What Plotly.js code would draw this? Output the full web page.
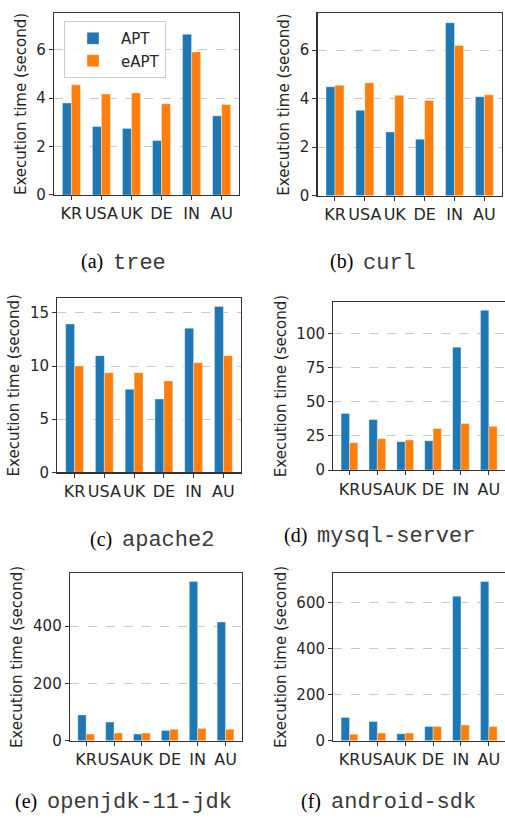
<!DOCTYPE html>
<html>
<head>
<meta charset="utf-8">
<script src="https://cdn.plot.ly/plotly-3.0.1.min.js"></script>
<style>
  html, body { margin: 0; padding: 0; background: #fff; }
  #chart { width: 505px; height: 821px; }
</style>
</head>
<body>
<div id="chart"></div>
<script>
// ---- data ----
const categories = ['KR', 'USA', 'UK', 'DE', 'IN', 'AU'];
const seriesNames = ['APT', 'eAPT'];

const treeApt = [3.80, 2.83, 2.75, 2.25, 6.64, 3.27];
const treeEapt = [4.55, 4.17, 4.21, 3.77, 5.91, 3.74];

const curlApt = [4.49, 3.52, 2.63, 2.33, 7.13, 4.08];
const curlEapt = [4.55, 4.66, 4.14, 3.93, 6.19, 4.16];

const apache2Apt = [13.96, 10.98, 7.81, 6.90, 13.56, 15.60];
const apache2Eapt = [10.00, 9.38, 9.38, 8.60, 10.32, 10.98];

const mysqlApt = [41.5, 37.0, 20.8, 21.5, 90.0, 117.0];
const mysqlEapt = [20.0, 23.0, 22.0, 30.5, 34.0, 32.0];

const openjdkApt = [90, 65, 23, 36, 556, 415];
const openjdkEapt = [23, 27, 27, 40, 43, 40];

const androidApt = [101, 83, 30, 62, 627, 690];
const androidEapt = [28, 33, 33, 62, 68, 62];

const panelLabels = ['(a)', '(b)', '(c)', '(d)', '(e)', '(f)'];
const panelPackages = ['tree', 'curl', 'apache2', 'mysql-server', 'openjdk-11-jdk', 'android-sdk'];
const yTitle = 'Execution time (second)';

// ---- styling ----
const blue = '#1f77b4';
const orange = '#ff7f0e';
const axisColor = '#333333';
const textColor = '#262626';
const sans = 'DejaVu Sans, sans-serif';

const panels = [
  { apt: treeApt,    eapt: treeEapt,    x: [0.1069, 0.4733], y: [0.7625, 0.9842], yr: [0, 7.52], dt: 2 },
  { apt: curlApt,    eapt: curlEapt,    x: [0.6290, 0.9935], y: [0.7616, 0.9838], yr: [0, 7.52], dt: 2 },
  { apt: apache2Apt, eapt: apache2Eapt, x: [0.1135, 0.4766], y: [0.4247, 0.6367], yr: [0, 16.38], dt: 5 },
  { apt: mysqlApt,   eapt: mysqlEapt,   x: [0.6600, 1.0000], y: [0.4275, 0.6320], yr: [0, 123], dt: 25 },
  { apt: openjdkApt, eapt: openjdkEapt, x: [0.1386, 0.4786], y: [0.0978, 0.3017], yr: [0, 585], dt: 200 },
  { apt: androidApt, eapt: androidEapt, x: [0.6600, 1.0000], y: [0.0978, 0.3017], yr: [0, 726], dt: 200 }
];

// caption placement (pixels): x where "(a)" ends / package name starts, y middle
const captionPos = [
  { split: 105, y: 262 },
  { split: 355, y: 262 },
  { split: 114, y: 539 },
  { split: 309, y: 535 },
  { split: 39,  y: 801 },
  { split: 323, y: 801 }
];

const data = [];
const layout = {
  width: 505,
  height: 821,
  margin: { l: 0, r: 0, t: 0, b: 0 },
  paper_bgcolor: '#ffffff',
  plot_bgcolor: '#ffffff',
  barmode: 'group',
  bargap: 0.4,
  bargroupgap: 0,
  font: { family: sans, size: 15, color: textColor },
  showlegend: true,
  legend: {
    x: 64 / 505, y: 1 - 21 / 821, xanchor: 'left', yanchor: 'top',
    bgcolor: 'rgba(255,255,255,0.85)',
    bordercolor: '#cccccc', borderwidth: 1,
    font: { family: sans, size: 15, color: textColor },
    itemwidth: 46, tracegroupgap: 0
  },
  annotations: []
};

panels.forEach((p, i) => {
  const n = i === 0 ? '' : String(i + 1);
  const xa = 'x' + n, ya = 'y' + n;
  const lineStyle = { color: 'rgba(255,255,255,0.35)', width: 1 };
  data.push({
    type: 'bar', name: seriesNames[0], x: categories, y: p.apt,
    xaxis: xa, yaxis: ya, marker: { color: blue, line: lineStyle },
    showlegend: i === 0, legendgroup: 'apt'
  });
  data.push({
    type: 'bar', name: seriesNames[1], x: categories, y: p.eapt,
    xaxis: xa, yaxis: ya, marker: { color: orange, line: lineStyle },
    showlegend: i === 0, legendgroup: 'eapt'
  });

  layout['xaxis' + n] = {
    domain: p.x, anchor: ya, type: 'category',
    range: [-0.58, 5.58], tickangle: 0,
    showline: true, linecolor: axisColor, linewidth: 1.3, mirror: true,
    ticks: 'outside', ticklen: 4, tickwidth: 1, tickcolor: axisColor,
    showgrid: false, zeroline: false, fixedrange: true, automargin: false,
    tickfont: { family: sans, size: 16, color: textColor }
  };
  layout['yaxis' + n] = {
    domain: p.y, anchor: xa,
    range: p.yr, dtick: p.dt, tick0: 0,
    showline: true, linecolor: axisColor, linewidth: 1.3, mirror: true,
    ticks: 'outside', ticklen: 4, tickwidth: 1, tickcolor: axisColor,
    showgrid: true, gridcolor: '#c8c8c8', griddash: 'dash', gridwidth: 1,
    zeroline: false, fixedrange: true, automargin: false,
    tickfont: { family: sans, size: 15, color: textColor },
    title: { text: yTitle, standoff: 6, font: { family: sans, size: 15, color: textColor } }
  };

  const c = captionPos[i];
  layout.annotations.push({
    xref: 'paper', yref: 'paper', x: c.split / 505, y: 1 - c.y / 821,
    xanchor: 'right', yanchor: 'middle', showarrow: false,
    text: panelLabels[i],
    font: { family: 'Liberation Serif, serif', size: 20, color: '#000000' }
  });
  layout.annotations.push({
    xref: 'paper', yref: 'paper', x: (c.split + 6) / 505, y: 1 - (c.y + 1) / 821,
    xanchor: 'left', yanchor: 'middle', showarrow: false,
    text: panelPackages[i],
    font: { family: 'Liberation Mono, monospace', size: 22, color: '#3a3a3a', weight: 'normal' }
  });
});

Plotly.newPlot('chart', data, layout, { staticPlot: true, displayModeBar: false });
</script>
</body>
</html>
